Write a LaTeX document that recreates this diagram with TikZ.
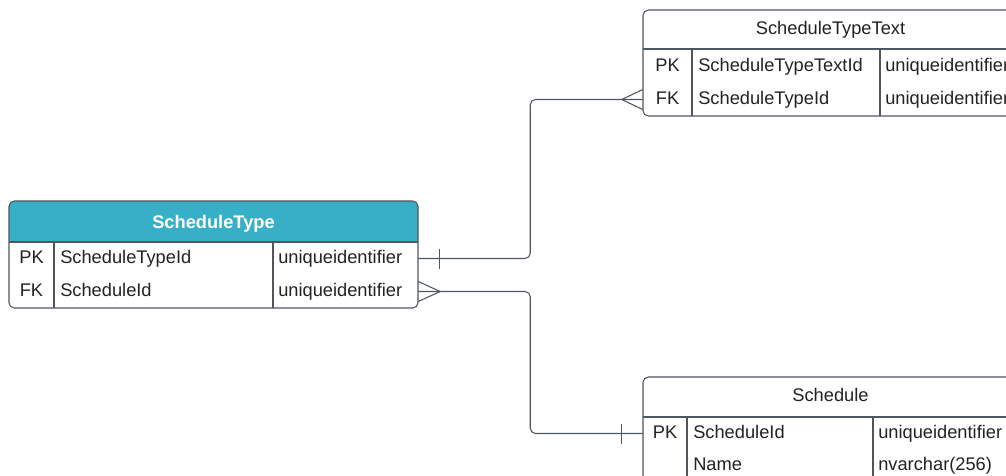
\documentclass[tikz,border=0pt]{standalone}
\usepackage{fontspec}
\setmainfont{Liberation Sans}
\usetikzlibrary{positioning,calc}
\definecolor{hdrteal}{HTML}{37AFC7}
\definecolor{linegray}{HTML}{50565E}
\definecolor{txtdark}{HTML}{222222}
\tikzset{
  tbl/.style={draw=linegray, line width=0.8pt, rounded corners=4pt},
  sep/.style={draw=linegray, line width=0.8pt},
  cell/.style={inner sep=0pt, text=txtdark, font=\fontsize{13.7}{16}\selectfont, text height=9.8pt, text depth=0pt},
  hdr/.style={cell, font=\fontsize{13.7}{16}\selectfont\bfseries, text=white},
  row/.style={inner sep=0pt, minimum height=24.75pt},
  conn/.style={draw=linegray, line width=0.8pt, rounded corners=4pt},
  crow/.style={draw=linegray, line width=0.8pt}
}
\begin{document}
\begin{tikzpicture}[x=0.75pt,y=-0.75pt]

\clip (0,0) rectangle (1006,475);

\fill[hdrteal, rounded corners=4pt] (9,201) rectangle (418,242);
\fill[hdrteal] (9,225) rectangle (418,242);
\draw[tbl] (9,201) rectangle (418,308);
\draw[sep] (9,242) -- (418,242);
\draw[sep] (54,242) -- (54,308);
\draw[sep] (273,242) -- (273,308);

\draw[tbl] (643,10) rectangle (1018,116);
\draw[sep] (643,49) -- (1018,49);
\draw[sep] (692,49) -- (692,116);
\draw[sep] (880,49) -- (880,116);

\draw[tbl] (643,377) rectangle (1018,500);
\draw[sep] (643,417) -- (1018,417);
\draw[sep] (687,417) -- (687,500);
\draw[sep] (873,417) -- (873,500);

\node[hdr] (st-title) at (213.5,221.5) {ScheduleType};
\node[row, minimum width=306.75pt] (st-r1) at (213.5,258.5) {};
\node[row, minimum width=306.75pt] (st-r2) at (213.5,291.5) {};
\node[cell] (st-k1) at (31.5,257) {PK};
\node[cell] (st-k2) at (31.5,290) {FK};
\node[cell, anchor=west] (st-n1) at (60,257) {ScheduleTypeId};
\node[cell, anchor=west] (st-n2) at (60,290) {ScheduleId};
\node[cell, anchor=west] (st-t1) at (278,257) {uniqueidentifier};
\node[cell, anchor=west] (st-t2) at (278,290) {uniqueidentifier};

\node[cell] (stt-title) at (830.5,28) {ScheduleTypeText};
\node[row, minimum width=281.25pt] (stt-r1) at (830.5,65.5) {};
\node[row, minimum width=281.25pt] (stt-r2) at (830.5,99.5) {};
\node[cell] (stt-k1) at (667.5,65) {PK};
\node[cell] (stt-k2) at (667.5,98) {FK};
\node[cell, anchor=west] (stt-n1) at (698,65) {ScheduleTypeTextId};
\node[cell, anchor=west] (stt-n2) at (698,98) {ScheduleTypeId};
\node[cell, anchor=west] (stt-t1) at (885,65) {uniqueidentifier};
\node[cell, anchor=west] (stt-t2) at (885,98) {uniqueidentifier};

\node[cell] (sch-title) at (830.5,395) {Schedule};
\node[row, minimum width=281.25pt] (sch-r1) at (830.5,433.5) {};
\node[row, minimum width=281.25pt] (sch-r2) at (830.5,466.5) {};
\node[cell] (sch-k1) at (665,432) {PK};
\node[cell, anchor=west] (sch-n1) at (693,432) {ScheduleId};
\node[cell, anchor=west] (sch-n2) at (693,464) {Name};
\node[cell, anchor=west] (sch-t1) at (878,432) {uniqueidentifier};
\node[cell, anchor=west] (sch-t2) at (878,464) {nvarchar(256)};

\draw[conn] (st-r1.east) -- ++(112,0) |- (stt-r2.west);
\draw[conn] (st-r2.east) -- ++(112,0) |- (sch-r1.west);

\draw[crow] ($(st-r1.east)+(21,-10)$) -- ++(0,20);
\draw[crow] ($(st-r2.east)+(0,-10)$) -- ($(st-r2.east)+(22,0)$) -- ($(st-r2.east)+(0,10)$);
\draw[crow] ($(stt-r2.west)+(0,-10)$) -- ($(stt-r2.west)+(-21,0)$) -- ($(stt-r2.west)+(0,10)$);
\draw[crow] ($(sch-r1.west)+(-21,-10)$) -- ++(0,20);

\end{tikzpicture}
\end{document}
